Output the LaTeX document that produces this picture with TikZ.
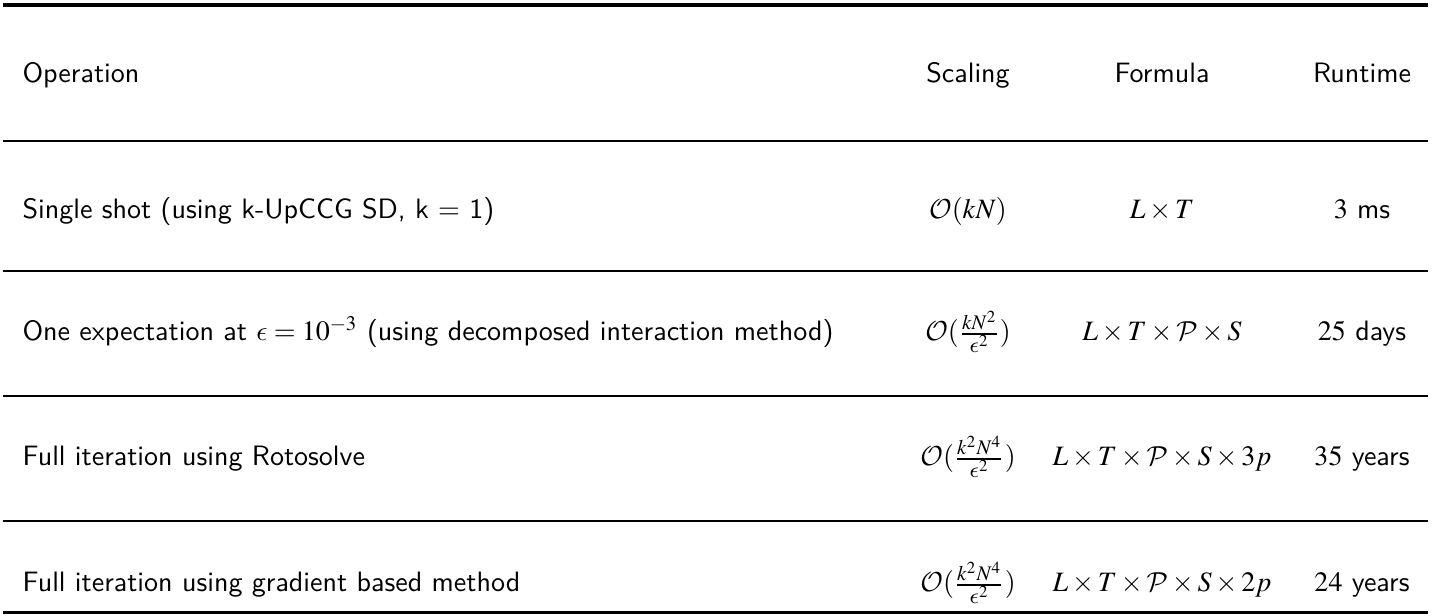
\documentclass[tikz,border=0pt]{standalone}
\usepackage{amsmath}
\usepackage{mathptmx}
\usepackage{tikz}
\DeclareSymbolFont{cmletters}{OML}{cmm}{m}{it}
\DeclareMathSymbol{\lunateps}{\mathord}{cmletters}{"0F}
\DeclareMathAlphabet{\mathcal}{OMS}{cmsy}{m}{n}

\begin{document}
\begin{tikzpicture}[x=0.3636pt,y=-0.3636pt,
	txt/.style={inner sep=0pt,font=\sffamily\fontsize{10.2pt}{12pt}\selectfont},
	optxt/.style={txt,anchor=base west},
	coltxt/.style={txt,anchor=base},
	heavyrule/.style={line width=1.25pt},
	headrule/.style={line width=0.75pt},
	rowrule/.style={line width=0.5pt}]
	\useasboundingbox (0,0) rectangle (1434,616);

	% rules
	\draw [heavyrule] (3,5) -- (1428,5);
	\draw [headrule] (3,141) -- (1428,141);
	\draw [rowrule] (3,271) -- (1428,271);
	\draw [rowrule] (3,396) -- (1428,396);
	\draw [rowrule] (3,521) -- (1428,521);
	\draw [heavyrule] (3,612.5) -- (1428,612.5);

	% header
	\node [optxt] (hop) at (22,83) {Operation};
	\node [coltxt] (hscal) at (968,83) {Scaling};
	\node [coltxt] (hform) at (1162,83) {Formula};
	\node [coltxt] (hrun) at (1362,83) {Runtime};

	% single shot
	\node [optxt] (op1) at (22,219) {Single shot (using k-UpCCG SD, k = 1)};
	\node [coltxt] (scal1) at (968,219) {$\mathcal{O}(kN)$};
	\node [coltxt] (form1) at (1162,219) {$L \times T$};
	\node [coltxt] (run1) at (1362,219) {$3$ ms};

	% one expectation
	\node [optxt] (op2) at (22,341)
	   {One expectation at $\lunateps = 10^{-3}$ (using decomposed interaction method)};
	\node [coltxt] (scal2) at (968,341) {$\mathcal{O}(\frac{kN^2}{\lunateps^2})$};
	\node [coltxt] (form2) at (1162,341) {$L \times T \times \mathcal{P} \times S$};
	\node [coltxt] (run2) at (1362,341) {$25$ days};

	% rotosolve
	\node [optxt] (op3) at (22,466) {Full iteration using Rotosolve};
	\node [coltxt] (scal3) at (968,466) {$\mathcal{O}(\frac{k^2N^4}{\lunateps^2})$};
	\node [coltxt] (form3) at (1162,466) {$L \times T \times \mathcal{P} \times S \times 3p$};
	\node [coltxt] (run3) at (1362,466) {$35$ years};

	% gradient
	\node [optxt] (op4) at (22,592) {Full iteration using gradient based method};
	\node [coltxt] (scal4) at (968,592) {$\mathcal{O}(\frac{k^2N^4}{\lunateps^2})$};
	\node [coltxt] (form4) at (1162,592) {$L \times T \times \mathcal{P} \times S \times 2p$};
	\node [coltxt] (run4) at (1362,592) {$24$ years};
\end{tikzpicture}
\end{document}
